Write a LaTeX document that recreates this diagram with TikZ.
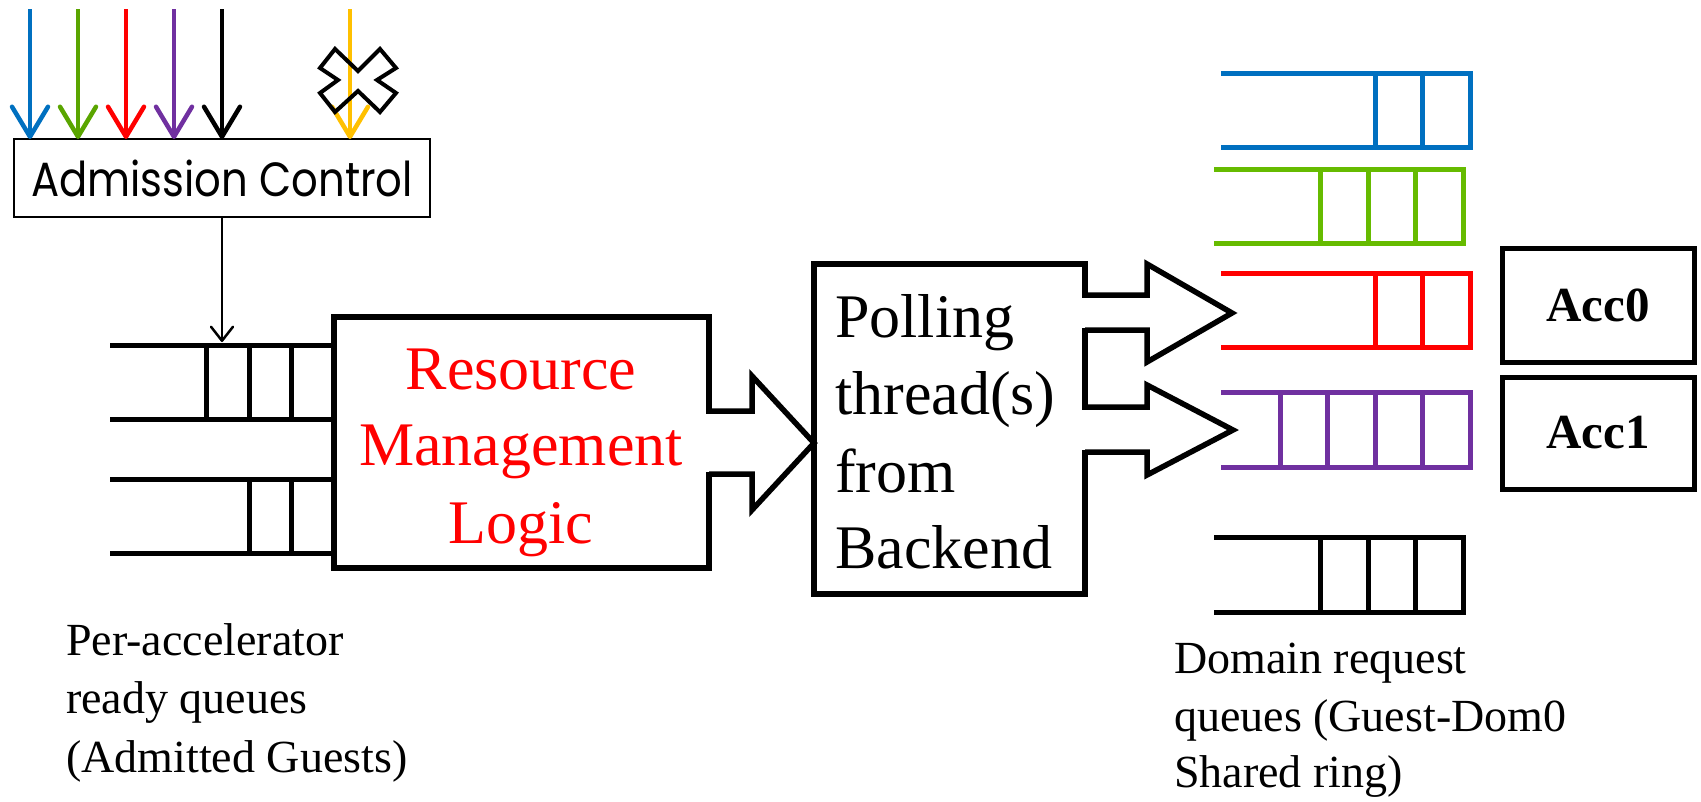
\documentclass[tikz,border=0pt]{standalone}
\usepackage{fontspec}
\usepackage{graphicx}
\setmainfont{Liberation Serif}
\newfontfamily\geofont{Poppins}
\usetikzlibrary{arrows.meta,calc}
\definecolor{qblue}{HTML}{0070C0}
\definecolor{agreen}{HTML}{5AA500}
\definecolor{qgreen}{HTML}{66BB00}
\definecolor{qred}{HTML}{FF0000}
\definecolor{qpurple}{HTML}{7030A0}
\definecolor{qyellow}{HTML}{FFC000}
\newcommand{\drawqueue}[6]{%
  \draw[queueline,#1] (#2,#4) -- (#3,#4) -- (#3,#5) -- (#2,#5);
  \foreach \d in {#6} \draw[queueline,#1] (\d,#4) -- (\d,#5);
}
\tikzset{
  queueline/.style={line width=5pt, line join=miter},
  boxstyle/.style={draw, line width=5.5pt, inner sep=0pt, outer sep=0pt, anchor=north west},
  inarrow/.style={line width=4.5pt, -{Straight Barb[length=30pt,width=36pt,round]}},
  blockarrow/.style={line width=5.5pt, line join=miter},
  bigtext/.style={font=\fontsize{62}{77}\selectfont, inner sep=0pt},
  captext/.style={font=\fontsize{46}{58}\selectfont, inner sep=0pt, anchor=base west},
}
\begin{document}
\begin{tikzpicture}[x=1pt,y=-1pt]
\useasboundingbox (0,0) rectangle (1701,801);

% Admission control
\node[draw, line width=2.7pt, minimum width=416pt, minimum height=78pt, inner sep=0pt, outer sep=0pt, anchor=north west]
  (adm) at (14,139) {\geofont\fontsize{48}{58}\selectfont\scalebox{0.87}[1]{Admission Control}};

% incoming arrows
\draw[inarrow, qblue]   (30,9)  -- (adm.north -| 30,0)  ;
\draw[inarrow, agreen]  (78,9)  -- (adm.north -| 78,0)  ;
\draw[inarrow, qred]    (126,9) -- (adm.north -| 126,0) ;
\draw[inarrow, qpurple] (174,9) -- (adm.north -| 174,0) ;
\draw[inarrow, black]   (222,9) -- (adm.north -| 222,0) ;
\draw[inarrow, qyellow] (350,9) -- (adm.north -| 350,0) ;
% rejection mark
\draw[line width=4pt, line join=miter] (320,68) -- (335,49) -- (358,71) -- (380,49) -- (396,68) -- (377,80)
  -- (396,93) -- (380,112) -- (358,91) -- (335,112) -- (320,93) -- (338,80) -- cycle;

% Resource management box
\node[boxstyle, minimum width=375pt, minimum height=251pt] (rml) at (334,317) {};
\node[bigtext, red, anchor=base] (rml1) at (521,389) {Resource};
\node[bigtext, red, anchor=base] (rml2) at (521,465) {Management};
\node[bigtext, red, anchor=base] (rml3) at (521,543) {Logic};

% left ready queues
\drawqueue{black}{110}{334}{345}{419}{206,249,291}
\drawqueue{black}{110}{334}{479}{553}{249,291}
\draw[line width=2.5pt, -{Straight Barb[length=14pt,width=22pt,round]}] (adm.south) -- (adm.south |- 0,342);

% Polling box
\node[boxstyle, minimum width=271pt, minimum height=330pt] (poll) at (814,264) {};
\node[bigtext, anchor=base west] (p1) at (835,337) {Polling};
\node[bigtext, anchor=base west] (p2) at (835,414) {thread(s)};
\node[bigtext, anchor=base west] (p3) at (835,492) {from};
\node[bigtext, anchor=base west] (p4) at (835,568) {Backend};

% block arrow RML -> polling
\fill[white] (705,413.5) rectangle (713,471.5);
\draw[blockarrow] (rml.east |- 0,411) -- (752,411) -- (752,376) -- (poll.west |- 0,443)
  -- (752,510) -- (752,474) -- (rml.east |- 0,474);

% block arrows polling -> queues
\coordinate (rtip) at (1232,313);
\coordinate (ptip) at (1233,430);
\fill[white] (1081,297.5) rectangle (1089,327.5);
\draw[blockarrow] (poll.east |- 0,295) -- (1147,295) -- (1147,264) -- (rtip)
  -- (1147,362) -- (1147,330) -- (poll.east |- 0,330);
\fill[white] (1081,409.5) rectangle (1089,449.5);
\draw[blockarrow] (poll.east |- 0,407) -- (1147,407) -- (1147,385) -- (ptip)
  -- (1147,475) -- (1147,452) -- (poll.east |- 0,452);

% domain request queues
\drawqueue{qblue}{1221}{1470}{73}{147}{1375,1422}
\drawqueue{qgreen}{1214}{1463}{169}{243}{1320,1368,1415}
\drawqueue{qred}{1221}{1470}{273}{347}{1375,1422}
\drawqueue{qpurple}{1221}{1470}{392}{467}{1280,1327,1375,1422}
\drawqueue{black}{1214}{1463}{537}{612}{1320,1368,1415}

% accelerators
\node[boxstyle, line width=5pt, minimum width=192pt, minimum height=114pt, font=\bfseries\fontsize{49}{59}\selectfont] (acc0) at (1502,248) {Acc0};
\node[boxstyle, line width=5pt, minimum width=192pt, minimum height=112pt, font=\bfseries\fontsize{49}{59}\selectfont] (acc1) at (1502,377) {Acc1};

% captions
\node[captext] (cl1) at (66,655) {Per-accelerator};
\node[captext] (cl2) at (66,713) {ready queues};
\node[captext] (cl3) at (66,772) {(Admitted Guests)};
\node[captext] (cr1) at (1174,673) {Domain request};
\node[captext] (cr2) at (1174,731) {queues (Guest-Dom0};
\node[captext] (cr3) at (1174,787) {Shared ring)};
\end{tikzpicture}
\end{document}
